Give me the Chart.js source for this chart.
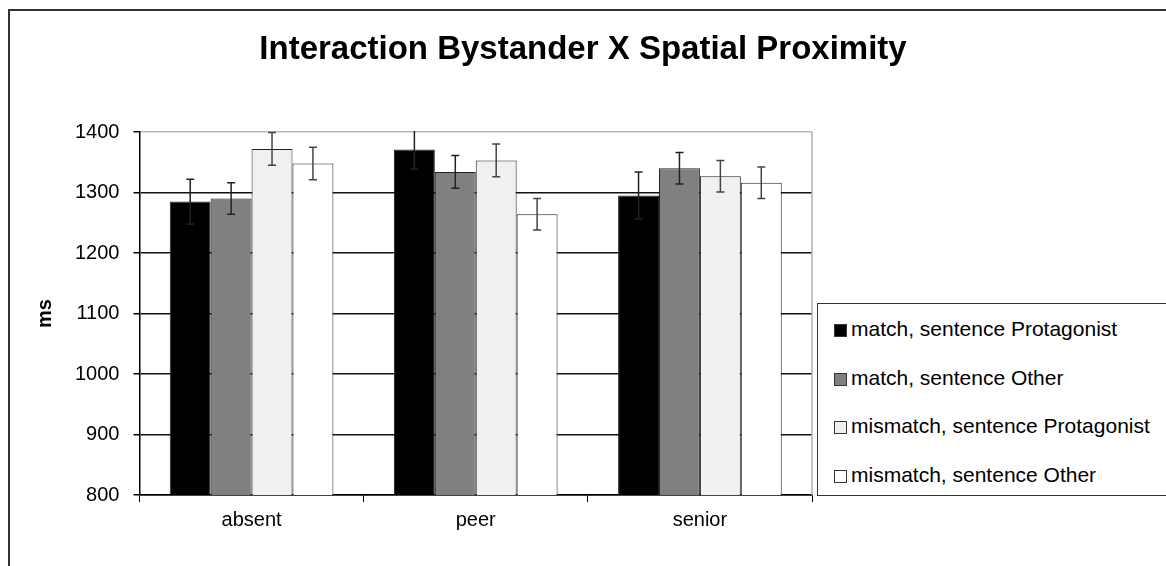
<!DOCTYPE html>
<html>
<head>
<meta charset="utf-8">
<script src="https://cdn.jsdelivr.net/npm/chart.js@4/dist/chart.umd.min.js"></script>
<style>
  html, body { margin: 0; padding: 0; background: #fff; }
  #wrap { position: relative; width: 1166px; height: 566px; overflow: hidden; }
  #frame { position: absolute; left: 8px; top: 9px; right: -10px; bottom: -10px;
           border-left: 2px solid #333; border-top: 2px solid #333; }
  #c { position: absolute; left: 0; top: 0; }
  #title { position: absolute; left: 0; width: 1166px; top: 28px; text-align: center;
           font-family: "Liberation Sans", Arial, sans-serif; font-weight: bold;
           font-size: 33px; line-height: 40px; color: #000; }
  #legend { position: absolute; left: 817px; top: 303px; width: 360px; height: 193px;
            border: 1px solid #333; box-sizing: border-box; background: #fff;
            font-family: "Liberation Sans", Arial, sans-serif; font-size: 21px; color: #000; }
  .item { position: absolute; left: 16px; height: 24px; line-height: 24px; white-space: nowrap; }
  .sw { display: inline-block; width: 11px; height: 11px; border: 1px solid #333;
        margin-right: 4px; vertical-align: -1px; }
</style>
</head>
<body>
<div id="wrap">
  <div id="frame"></div>
  <canvas id="c" width="1166" height="566"></canvas>
  <div id="title">Interaction Bystander X Spatial Proximity</div>
  <div id="legend"></div>
</div>
<script>
var categories = ["absent", "peer", "senior"];

var seriesNames = [
  "match, sentence Protagonist",
  "match, sentence Other",
  "mismatch, sentence Protagonist",
  "mismatch, sentence Other"
];

var matchProt = [1285, 1371, 1295];
var matchOther = [1290, 1334, 1340];
var mismatchProt = [1372, 1353, 1327];
var mismatchOther = [1348, 1264, 1316];

var errMatchProt = [37, 32, 39];
var errMatchOther = [26, 27, 26];
var errMismatchProt = [27, 27, 26];
var errMismatchOther = [27, 26, 26];

var fills = ["#000000", "#808080", "#f0f0f0", "#ffffff"];

var values = [matchProt, matchOther, mismatchProt, mismatchOther];
var errors = [errMatchProt, errMatchOther, errMismatchProt, errMismatchOther];

var FONT = '"Liberation Sans", Arial, sans-serif';

var errorBars = {
  id: 'errorBars',
  afterDatasetsDraw: function(chart) {
    var ctx = chart.ctx;
    var y = chart.scales.y;
    var area = chart.chartArea;
    ctx.save();
    ctx.beginPath();
    ctx.rect(area.left, area.top - 1, area.right - area.left, area.bottom - area.top + 1);
    ctx.clip();
    ctx.lineWidth = 1.5;
    chart.data.datasets.forEach(function(ds, i) {
      var meta = chart.getDatasetMeta(i);
      meta.data.forEach(function(bar, j) {
        var v = ds.data[j], e = ds.errors[j];
        var top = y.getPixelForValue(v + e);
        var bot = y.getPixelForValue(v - e);
        ctx.strokeStyle = i >= 2 ? '#444' : '#222';
        ctx.beginPath();
        ctx.moveTo(bar.x, top); ctx.lineTo(bar.x, bot);
        ctx.moveTo(bar.x - 4, top); ctx.lineTo(bar.x + 4, top);
        ctx.moveTo(bar.x - 4, bot); ctx.lineTo(bar.x + 4, bot);
        ctx.stroke();
      });
    });
    ctx.restore();
    // plot area right border
    ctx.save();
    ctx.strokeStyle = '#b0b0b0';
    ctx.lineWidth = 1.5;
    ctx.beginPath();
    ctx.moveTo(area.right, area.top);
    ctx.lineTo(area.right, area.bottom);
    ctx.stroke();
    ctx.restore();
  }
};

var datasets = seriesNames.map(function(name, i) {
  return {
    label: name,
    data: values[i],
    errors: errors[i],
    backgroundColor: fills[i],
    borderColor: '#222',
    borderWidth: 1,
    borderSkipped: 'bottom',
    barPercentage: 1.0,
    categoryPercentage: 0.73
  };
});

new Chart(document.getElementById('c').getContext('2d'), {
  type: 'bar',
  data: { labels: categories, datasets: datasets },
  plugins: [errorBars],
  options: {
    responsive: false,
    animation: false,
    layout: { padding: { left: 20, right: 354, top: 132, bottom: 28 } },
    plugins: {
      legend: { display: false },
      tooltip: { enabled: false },
      title: { display: false }
    },
    scales: {
      x: {
        grid: { display: true, offset: true, drawOnChartArea: false, color: '#000', tickLength: 7 },
        border: { color: '#000', width: 1.5 },
        ticks: { color: '#000', font: { family: FONT, size: 20 }, padding: 6 }
      },
      y: {
        min: 800,
        max: 1400,
        ticks: {
          stepSize: 100, color: '#000', font: { family: FONT, size: 20 }, padding: 14,
          callback: function(v) { return String(v); }
        },
        grid: {
          color: function(c) { return c.tick && c.tick.value === 1400 ? '#b8b8b8' : '#111'; },
          lineWidth: 1.5,
          tickLength: 6,
          tickColor: '#000'
        },
        border: { color: '#000', width: 1.5 },
        title: {
          display: true,
          text: 'ms',
          color: '#000',
          font: { family: FONT, size: 20, weight: 'bold' },
          padding: { top: 13, bottom: 4 }
        }
      }
    }
  }
});

var legend = document.getElementById('legend');
var rowTops = [13, 62, 110, 159];
seriesNames.forEach(function(name, i) {
  var d = document.createElement('div');
  d.className = 'item';
  d.style.top = rowTops[i] + 'px';
  d.innerHTML = '<span class="sw" style="background:' + fills[i] + '"></span>' + name;
  legend.appendChild(d);
});
</script>
</body>
</html>
